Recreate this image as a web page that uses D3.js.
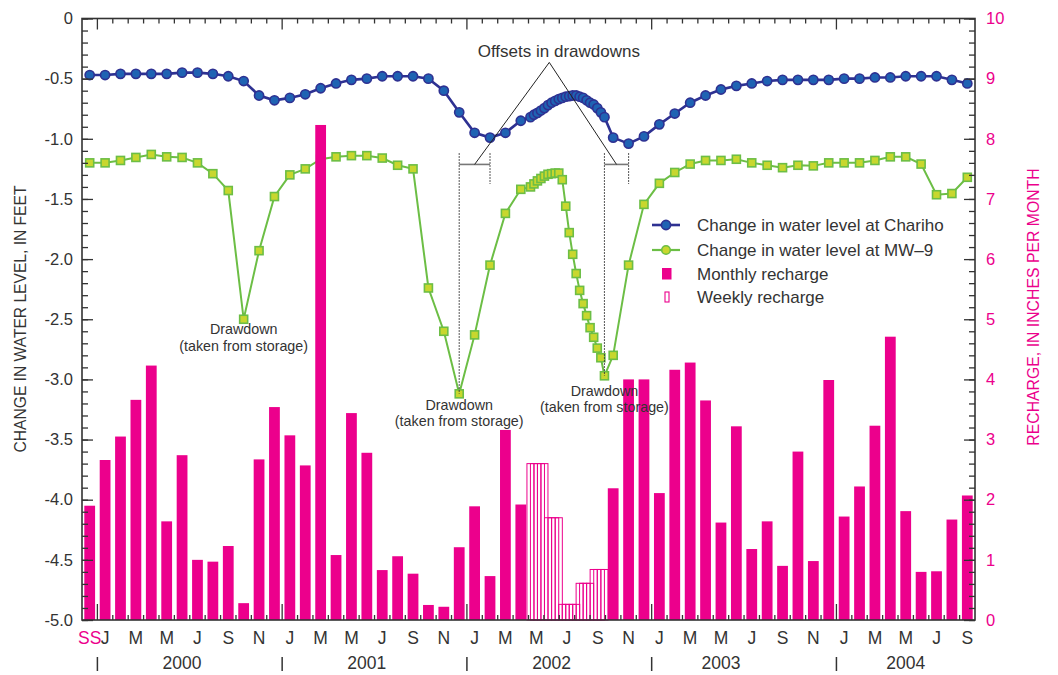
<!DOCTYPE html>
<html><head><meta charset="utf-8">
<script src="https://cdn.jsdelivr.net/npm/d3@7"></script>
<style>
body{margin:0;background:#fff;}
svg text{font-family:"Liberation Sans",Arial,sans-serif;fill:#333;}
</style></head>
<body><svg id="c" width="1058" height="675"></svg>
<script>
// ---------------- DATA ----------------
// Monthly slots: Dec 1999 ("SS") through Sep 2004
const monthlyRecharge = [1.90,
 2.66,3.05,3.66,4.23,1.64,2.74,1.00,0.97,1.23,0.28,2.67,3.54,
 3.07,2.57,8.23,1.08,3.44,2.78,0.83,1.06,0.77,0.25,0.22,1.21,
 1.89,0.73,3.16,1.92,null,null,null,null,null,2.19,4.00,4.00,
 2.11,4.16,4.28,3.65,1.62,3.22,1.18,1.64,0.90,2.80,0.98,3.99,
 1.72,2.22,3.23,4.71,1.81,0.80,0.81,1.67,2.07];
const charihoMonthly = [-0.47,
 -0.47,-0.46,-0.46,-0.46,-0.46,-0.45,-0.45,-0.46,-0.48,-0.52,-0.64,-0.68,
 -0.66,-0.63,-0.58,-0.54,-0.51,-0.50,-0.48,-0.48,-0.48,-0.50,-0.60,-0.78,
 -0.95,-0.99,-0.95,-0.85,null,null,null,null,null,-0.99,-1.04,-0.98,
 -0.88,-0.79,-0.70,-0.64,-0.59,-0.56,-0.54,-0.52,-0.51,-0.51,-0.51,-0.51,
 -0.50,-0.50,-0.49,-0.49,-0.48,-0.48,-0.48,-0.51,-0.54];
const mw9Monthly = [-1.20,
 -1.20,-1.18,-1.155,-1.13,-1.15,-1.155,-1.20,-1.29,-1.43,-2.50,-1.93,-1.48,
 -1.30,-1.25,-1.17,-1.15,-1.14,-1.14,-1.16,-1.22,-1.25,-2.24,-2.60,-3.12,
 -2.63,-2.05,-1.62,-1.42,null,null,null,null,null,-2.80,-2.05,-1.545,
 -1.37,-1.28,-1.21,-1.18,-1.18,-1.17,-1.20,-1.22,-1.24,-1.22,-1.225,-1.20,
 -1.20,-1.20,-1.18,-1.15,-1.15,-1.21,-1.465,-1.455,-1.32];
// Weekly record, May-Sep 2002
const weeklyDates = ["2002-05-05","2002-05-12","2002-05-19","2002-05-26","2002-06-02","2002-06-09",
 "2002-06-16","2002-06-23","2002-06-30","2002-07-07","2002-07-14","2002-07-21","2002-07-28",
 "2002-08-04","2002-08-11","2002-08-18","2002-08-25","2002-09-01","2002-09-08","2002-09-15",
 "2002-09-22","2002-09-29"];
const charihoWeekly = [-0.82,-0.80,-0.785,-0.765,-0.745,-0.72,-0.70,-0.685,-0.67,-0.66,-0.65,
 -0.645,-0.64,-0.64,-0.65,-0.66,-0.68,-0.70,-0.715,-0.745,-0.78,-0.82];
const mw9Weekly = [-1.40,-1.375,-1.35,-1.33,-1.31,-1.295,-1.29,-1.285,-1.285,-1.34,-1.56,
 -1.78,-1.96,-2.12,-2.26,-2.37,-2.47,-2.57,-2.65,-2.74,-2.82,-2.97];
const weeklyRecharge = [2.60,2.60,2.60,2.60,2.60,1.70,1.70,1.70,1.70,0.26,0.26,0.26,0.26,0.26,
 0.61,0.61,0.61,0.61,0.84,0.84,0.84,0.84];
// Axis labels
const monthTickLabels = ["SS",
 "J","M","M","J","S","N", "J","M","M","J","S","N", "J","M","M","J","S","N",
 "J","M","M","J","S","N", "J","M","M","J","S"];
const yearLabels = ["2000","2001","2002","2003","2004"];
const yearLabelMonth = [6,18,30,41,53];      // slot of month under which each year label is centred
const yearBoundaries = [1,13,25,37,49];      // slot index where each year begins
const leftTickLabels = [0,-0.5,-1.0,-1.5,-2.0,-2.5,-3.0,-3.5,-4.0,-4.5,-5.0];
const rightTickLabels = [0,1,2,3,4,5,6,7,8,9,10];
const legendItems = ["Change in water level at Chariho","Change in water level at MW\u20139","Monthly recharge","Weekly recharge"];

// ---------------- LAYOUT ----------------
const L=82, R=975, T=18.5, B=620;
const N = monthlyRecharge.length;
const PINK="#EC008C", NAVY="#2E3192", BLUE="#1F63B3", GREEN="#6CBE45", LIME="#C8D72E", INK="#333";
const svg = d3.select("#c");
const xs = d3.scaleLinear().domain([0,N]).range([L,R]);
const xb = d3.scaleBand().domain(d3.range(N)).range([L,R]).paddingInner(0.3).paddingOuter(0.15);
const yL = d3.scaleLinear().domain([-5,0]).range([B,T]);
const yR = d3.scaleLinear().domain([0,10]).range([B,T]);
const parse = d3.timeParse("%Y-%m-%d");
const start = new Date(1999,11,1);
function monthPos(s){const d=parse(s);const dim=new Date(d.getFullYear(),d.getMonth()+1,0).getDate();
  return d3.timeMonth.count(start,d)+(d.getDate()-1)/dim;}

function series(monthly, weekly){
  const a = monthly.map((v,i)=>({p:i+0.5,v})).filter(d=>d.v!=null);
  const b = weeklyDates.map((s,i)=>({p:monthPos(s),v:weekly[i]}));
  return a.concat(b).sort((m,n)=>m.p-n.p);
}
const chariho = series(charihoMonthly, charihoWeekly);
const mw9 = series(mw9Monthly, mw9Weekly);
const line = d3.line().x(d=>xs(d.p)).y(d=>yL(d.v));

// ---------------- LINES ----------------
svg.append("path").datum(mw9).attr("d",line).attr("fill","none").attr("stroke",GREEN).attr("stroke-width",2);
const sq=8;
svg.append("g").selectAll("rect").data(mw9).join("rect")
  .attr("x",d=>xs(d.p)-sq/2).attr("y",d=>yL(d.v)-sq/2).attr("width",sq).attr("height",sq)
  .attr("fill",LIME).attr("stroke",GREEN).attr("stroke-width",1.6);
svg.append("path").datum(chariho).attr("d",line).attr("fill","none").attr("stroke",NAVY).attr("stroke-width",2.6);
svg.append("g").selectAll("circle").data(chariho).join("circle")
  .attr("cx",d=>xs(d.p)).attr("cy",d=>yL(d.v)).attr("r",4.6)
  .attr("fill",BLUE).attr("stroke",NAVY).attr("stroke-width",1.6);

// ---------------- BARS ----------------
svg.append("g").selectAll("rect").data(monthlyRecharge.map((v,i)=>({i,v})).filter(d=>d.v!=null)).join("rect")
  .attr("x",d=>xb(d.i)).attr("width",xb.bandwidth()).attr("y",d=>yR(d.v)).attr("height",d=>yR(0)-yR(d.v))
  .attr("fill",PINK);
const wk = xs(7/30.4)-xs(0);
svg.append("g").selectAll("rect").data(weeklyDates.map((s,i)=>({p:monthPos(s),v:weeklyRecharge[i]}))).join("rect")
  .attr("x",d=>xs(d.p)-wk).attr("width",2*wk).attr("y",d=>yR(d.v)).attr("height",d=>yR(0)-yR(d.v))
  .attr("fill","none").attr("stroke",PINK).attr("stroke-width",1);

// ---------------- AXES ----------------
function clean(g){g.select(".domain").remove();g.selectAll("text").attr("fill",null);}
const fmtL = v => v===0 ? "0" : v.toFixed(1);
svg.append("g").attr("transform",`translate(${L},0)`)
  .call(d3.axisLeft(yL).tickValues(d3.range(-50,1).map(k=>k/10)).tickSizeInner(-6).tickSizeOuter(0).tickFormat(""))
  .call(clean).selectAll("line").attr("stroke",INK).attr("stroke-width",1.3);
svg.append("g").attr("transform",`translate(${L},0)`)
  .call(d3.axisLeft(yL).tickValues(leftTickLabels).tickSizeInner(-11).tickSizeOuter(0).tickPadding(9).tickFormat(fmtL))
  .call(clean).call(g=>{g.selectAll("line").attr("stroke",INK).attr("stroke-width",1.3);
     g.selectAll("text").style("font-size","16.5px").style("fill",INK);});
svg.append("g").attr("transform",`translate(${R},0)`)
  .call(d3.axisRight(yR).tickValues(d3.range(0,51).map(k=>k/5)).tickSizeInner(-6).tickSizeOuter(0).tickFormat(""))
  .call(clean).selectAll("line").attr("stroke",INK).attr("stroke-width",1.3);
svg.append("g").attr("transform",`translate(${R},0)`)
  .call(d3.axisRight(yR).tickValues(rightTickLabels).tickSizeInner(-11).tickSizeOuter(0).tickPadding(11).tickFormat(d3.format("d")))
  .call(clean).call(g=>{g.selectAll("line").attr("stroke",INK).attr("stroke-width",1.3);
     g.selectAll("text").style("font-size","16.5px").style("fill",PINK);});
const bounds = d3.range(1,N);
const isMajor = k => yearBoundaries.includes(k);
svg.append("g").selectAll("line").data(bounds).join("line")
  .attr("x1",k=>xs(k)).attr("x2",k=>xs(k)).attr("y1",T).attr("y2",k=>T+(isMajor(k)?11:5))
  .attr("stroke",INK).attr("stroke-width",1.3);
svg.append("g").selectAll("line").data(bounds).join("line")
  .attr("x1",k=>xs(k)).attr("x2",k=>xs(k)).attr("y1",B).attr("y2",k=>B-(isMajor(k)?16:5))
  .attr("stroke",INK).attr("stroke-width",1.3);
svg.append("rect").attr("x",L).attr("y",T).attr("width",R-L).attr("height",B-T)
  .attr("fill","none").attr("stroke",INK).attr("stroke-width",1.6);

// month labels
svg.append("g").selectAll("text").data(monthTickLabels).join("text")
  .attr("x",(d,i)=>xs((i===0?0:2*i-1)+0.5)).attr("y",644).attr("text-anchor","middle")
  .style("font-size","17.5px").style("fill",(d,i)=>i===0?PINK:INK).text(d=>d);
svg.append("g").selectAll("text").data(yearLabels).join("text")
  .attr("x",(d,i)=>xs(yearLabelMonth[i]+0.5)).attr("y",669).attr("text-anchor","middle")
  .style("font-size","17.5px").text(d=>d);
svg.append("g").selectAll("line").data(yearBoundaries).join("line")
  .attr("x1",k=>xs(k)).attr("x2",k=>xs(k)).attr("y1",657).attr("y2",671)
  .attr("stroke",INK).attr("stroke-width",1.5);

// axis titles
svg.append("text").attr("transform",`translate(26,319) rotate(-90)`).attr("text-anchor","middle")
  .style("font-size","15.6px").text("CHANGE IN WATER LEVEL, IN FEET");
svg.append("text").attr("transform",`translate(1039,307) rotate(-90)`).attr("text-anchor","middle")
  .style("font-size","15.8px").style("fill",PINK).text("RECHARGE, IN INCHES PER MONTH");

// ---------------- ANNOTATIONS ----------------
function minOf(arr){return arr.reduce((m,d)=>d.v<m.v?d:m);}
const gMin1 = minOf(mw9.filter(d=>d.p<13)), gMin2 = minOf(mw9.filter(d=>d.p>13&&d.p<26)), gMin3 = minOf(mw9.filter(d=>d.p>26&&d.p<40));
const bMin2 = minOf(chariho.filter(d=>d.p>20&&d.p<29)), bMin3 = minOf(chariho.filter(d=>d.p>29&&d.p<40));
const ann = svg.append("g");
function dd(x,y1,y2){ann.append("line").attr("x1",x).attr("x2",x).attr("y1",y1).attr("y2",y2)
  .attr("stroke",INK).attr("stroke-width",1.1).attr("stroke-dasharray","1.5,1.5");}
const yTop=yL(-1.12), yShort=yL(-1.376), yH=yL(-1.213);
dd(xs(gMin2.p),yTop,yL(gMin2.v)); dd(xs(bMin2.p),yTop,yShort);
dd(xs(gMin3.p),yTop,yL(gMin3.v)); dd(xs(bMin3.p),yTop,yShort);
[[gMin2,bMin2],[gMin3,bMin3]].forEach(([g,b])=>{
  ann.append("line").attr("x1",xs(g.p)).attr("x2",xs(b.p)).attr("y1",yH).attr("y2",yH).attr("stroke","#777").attr("stroke-width",1.6);
});
const apex=[xs(30.35),yL(-0.365)];
[[gMin2,bMin2],[gMin3,bMin3]].forEach(([g,b])=>{
  ann.append("line").attr("x1",apex[0]).attr("y1",apex[1]).attr("x2",(xs(g.p)+xs(b.p))/2).attr("y2",yH)
    .attr("stroke","#222").attr("stroke-width",1);
});
ann.append("text").attr("x",xs(30.97)).attr("y",yL(-0.318)).attr("text-anchor","middle").style("font-size","17px").text("Offsets in drawdowns");
[[gMin1,15,31.5],[gMin2,16,32.5],[gMin3,20.5,36]].forEach(([g,o1,o2])=>{
  ann.append("text").attr("x",xs(g.p)).attr("y",yL(g.v)+o1).attr("text-anchor","middle").style("font-size","14.3px").text("Drawdown");
  ann.append("text").attr("x",xs(g.p)).attr("y",yL(g.v)+o2).attr("text-anchor","middle").style("font-size","14.3px").text("(taken from storage)");
});

// ---------------- LEGEND ----------------
const lg = svg.append("g");
const rows=[225,250,274,297];
lg.append("line").attr("x1",652).attr("x2",680).attr("y1",rows[0]).attr("y2",rows[0]).attr("stroke",NAVY).attr("stroke-width",2.6);
lg.append("circle").attr("cx",666).attr("cy",rows[0]).attr("r",4.6).attr("fill",BLUE).attr("stroke",NAVY).attr("stroke-width",1.6);
lg.append("line").attr("x1",652).attr("x2",680).attr("y1",rows[1]).attr("y2",rows[1]).attr("stroke",GREEN).attr("stroke-width",2.2);
lg.append("circle").attr("cx",666).attr("cy",rows[1]).attr("r",4.3).attr("fill",LIME).attr("stroke",GREEN).attr("stroke-width",1.6);
lg.append("rect").attr("x",662).attr("y",rows[2]-6).attr("width",9.5).attr("height",11.5).attr("fill",PINK);
lg.append("rect").attr("x",665).attr("y",rows[3]-5).attr("width",4).attr("height",10).attr("fill","none").attr("stroke",PINK).attr("stroke-width",1.1);
lg.selectAll("text").data(legendItems).join("text").attr("x",697).attr("y",(d,i)=>rows[i]+6)
  .style("font-size","17px").text(d=>d);
</script>
</body></html>
